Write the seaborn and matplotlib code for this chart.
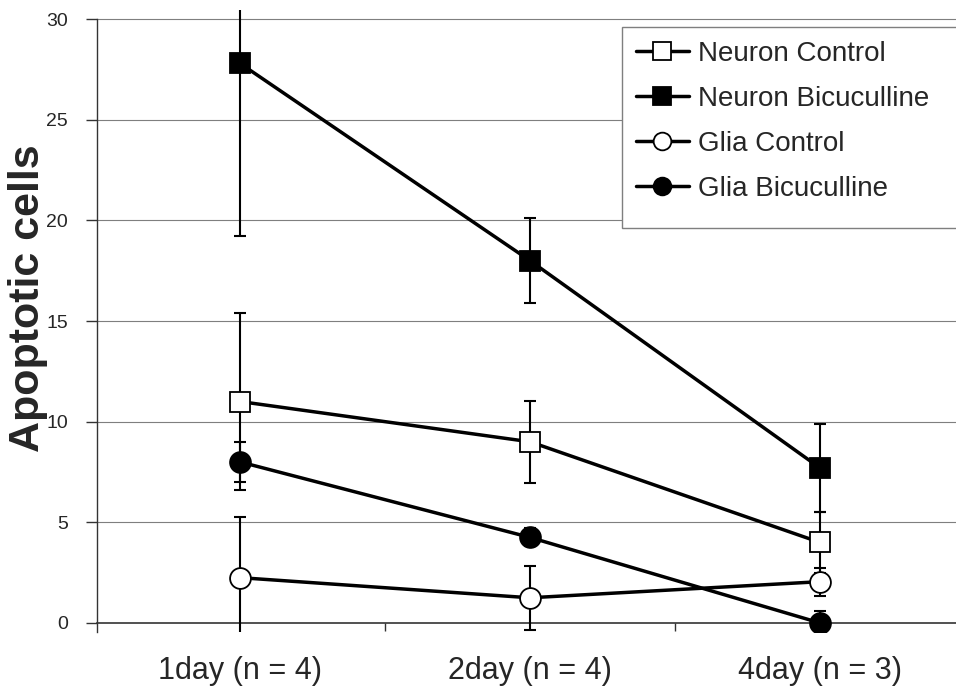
import matplotlib
matplotlib.use("Agg")
import matplotlib.pyplot as plt
import matplotlib.patches as mpatches
import seaborn as sns
import numpy as np
import pandas as pd

categories = ["1day (n = 4)", "2day (n = 4)", "4day (n = 3)"]
neuron_control = [11.0, 9.0, 4.0]
neuron_control_err = [4.4, 2.05, 1.5]
neuron_bicuculline = [27.8, 18.0, 7.7]
neuron_bicuculline_err = [8.6, 2.1, 2.2]
glia_control = [2.25, 1.25, 2.05]
glia_control_err = [3.0, 1.6, 0.7]
glia_bicuculline = [8.0, 4.25, 0.0]
glia_bicuculline_err = [1.0, 0.45, 0.6]
y_ticks = [0, 5, 10, 15, 20, 25, 30]

series = [
    ("Neuron Control", neuron_control, neuron_control_err, "s", "white"),
    ("Neuron Bicuculline", neuron_bicuculline, neuron_bicuculline_err, "s", "black"),
    ("Glia Control", glia_control, glia_control_err, "o", "white"),
    ("Glia Bicuculline", glia_bicuculline, glia_bicuculline_err, "o", "black"),
]

sns.set_style("white")
plt.rcParams["font.family"] = ["Liberation Sans", "DejaVu Sans"]

fig = plt.figure(figsize=(9.56, 6.92), dpi=100)
ax = fig.add_axes([97 / 956, 1 - 632 / 692, 1 - 97 / 956, (632 - 10) / 692])

x = np.arange(len(categories))
for name, vals, errs, mk, fc in series:
    ax.errorbar(x, vals, yerr=errs, fmt="none", ecolor="black", elinewidth=1.5,
                capsize=4.3, capthick=1.5, zorder=3)
for name, vals, errs, mk, fc in series:
    df = pd.DataFrame({"x": x, "y": vals})
    sns.lineplot(data=df, x="x", y="y", ax=ax, color="black", linewidth=2.5,
                 marker=mk, markersize=15, markerfacecolor=fc,
                 markeredgecolor="black", markeredgewidth=1.3, label=name,
                 zorder=4)

ax.set_xlim(-0.493, 2.469)
ax.set_ylim(-0.45, 30.45)

for yv in y_ticks[1:]:
    ax.axhline(yv, color="#7f7f7f", linewidth=0.8, zorder=1)

ax.spines["top"].set_visible(False)
ax.spines["right"].set_visible(False)
ax.spines["bottom"].set_position(("data", 0))
ax.spines["bottom"].set_color("#333333")
ax.spines["bottom"].set_linewidth(1.2)
ax.spines["left"].set_bounds(-0.45, 30)
ax.spines["left"].set_color("#333333")
ax.spines["left"].set_linewidth(1.0)

ax.set_yticks(y_ticks)
ax.set_yticklabels([str(v) for v in y_ticks], fontsize=14)
ax.tick_params(axis="y", direction="out", length=8, width=1, color="#333333", pad=13, left=True)

ax.set_xticks(x)
ax.set_xticklabels(categories, fontsize=22)
ax.set_xticks([0.5, 1.5], minor=True)
ax.tick_params(axis="x", which="major", length=0, pad=24, bottom=True)
ax.tick_params(axis="x", which="minor", direction="out", length=6, width=1, color="#333333", bottom=True)

ax.set_xlabel("")
ax.set_ylabel("")
fig.text(28 / 956, 1 - 298 / 692, "Apoptotic cells", rotation=90, fontsize=31,
         fontweight="bold", ha="center", va="center")

leg = ax.legend(loc="upper left", bbox_to_anchor=(622 / 956, 1 - 27 / 692),
                bbox_transform=fig.transFigure, fontsize=20, frameon=False,
                handlelength=1.9, handletextpad=0.35, labelspacing=0.68,
                borderpad=0.5, markerscale=0.85, borderaxespad=0)
leg.set_zorder(10)
frame = mpatches.Rectangle((622 / 956, 1 - 228 / 692), (970 - 622) / 956, (228 - 27) / 692,
                           transform=fig.transFigure, facecolor="white",
                           edgecolor="#7f7f7f", linewidth=1.0, zorder=9, clip_on=False)
ax.add_artist(frame)

fig.savefig("out.png", dpi=100)
